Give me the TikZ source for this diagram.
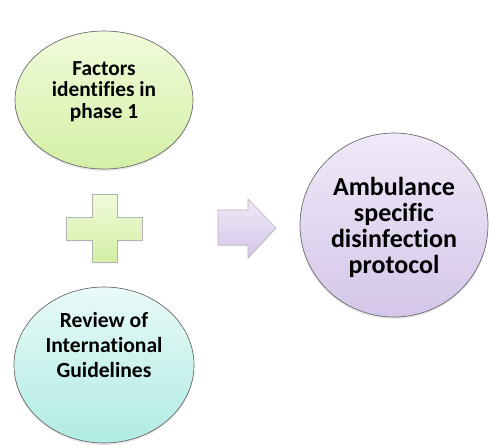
\documentclass[tikz,border=0pt]{standalone}
\usepackage{fontspec}
\setmainfont{Carlito}[Ligatures=NoCommon]
\usepackage{xcolor}
\usepackage{tikz}
\usetikzlibrary{shapes,shadows,positioning}

\definecolor{greenTop}{HTML}{F0FBDA}
\definecolor{greenBot}{HTML}{D4EFA6}
\definecolor{cyanTop}{HTML}{E8FAF8}
\definecolor{cyanBot}{HTML}{B0EBE3}
\definecolor{lilacTop}{HTML}{F0E9F8}
\definecolor{lilacBot}{HTML}{D4C6E9}

\begin{document}
\begin{tikzpicture}[
    x=0.75pt, y=-0.75pt,
    bubble/.style={ellipse, draw=black!60, line width=0.5pt, inner sep=0pt,
        drop shadow={opacity=0.18, shadow xshift=0pt, shadow yshift=-1.5pt}},
    greenbubble/.style={bubble, top color=greenTop, bottom color=greenBot},
    cyanbubble/.style={bubble, top color=cyanTop, bottom color=cyanBot},
    lilacbubble/.style={bubble, top color=lilacTop, bottom color=lilacBot},
    label/.style={align=center, inner sep=0pt, font=\bfseries},
    block/.style={draw=black!30, line width=0.4pt,
        drop shadow={opacity=0.15, shadow xshift=0pt, shadow yshift=-1pt}}
]
    \useasboundingbox (0,0) rectangle (489,444);

    % the three bubbles
    \node[greenbubble, minimum width=133.5pt, minimum height=103.5pt] (factors) at (104,100) {};
    \node[cyanbubble, minimum width=135pt, minimum height=117pt] (review) at (104,365) {};
    \node[lilacbubble, minimum width=141pt, minimum height=138pt] (protocol) at (394,225) {};

    \node[label, font=\bfseries\fontsize{16}{16}\selectfont] (factorsText) at (104,91.5)
        {Factors\\identifies in\\phase 1};
    \node[label, font=\bfseries\fontsize{16.2}{18.4}\selectfont] (reviewText) at (104,345)
        {Review of\\International\\Guidelines};
    \node[label, font=\bfseries\fontsize{19.5}{19.5}\selectfont] (protocolText) at (394,227)
        {Ambulance\\specific\\disinfection\\protocol};

    % plus sign
    \draw[block, top color=greenTop, bottom color=greenBot]
        (92,194) -- (117,194) -- (117,217) -- (142,217) -- (142,240) -- (117,240)
        -- (117,262) -- (92,262) -- (92,240) -- (66,240) -- (66,217) -- (92,217) -- cycle;

    % block arrow
    \draw[block, top color=lilacTop, bottom color=lilacBot]
        (218,210) -- (248,210) -- (248,199) -- (276,228) -- (248,258)
        -- (248,245) -- (218,245) -- cycle;
\end{tikzpicture}
\end{document}
